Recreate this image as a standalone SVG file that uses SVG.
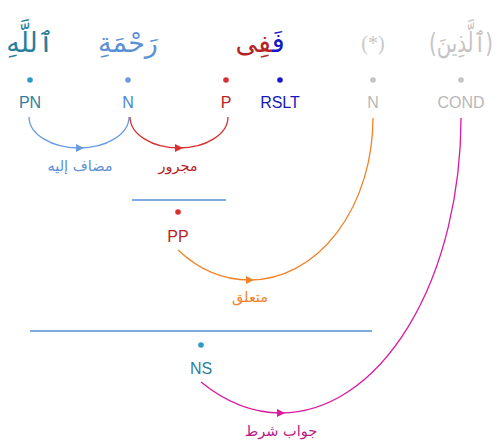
<svg xmlns="http://www.w3.org/2000/svg" width="502" height="442" viewBox="0 0 502 442">
<style>
.w{font-family:"DejaVu Sans",sans-serif;font-size:27px;text-anchor:middle}
.t{font-family:"Liberation Sans",Arial,sans-serif;font-size:16px;text-anchor:middle}
.a{font-family:"DejaVu Serif","DejaVu Sans",serif;font-size:14.5px;text-anchor:middle}
.c{fill:none;stroke-width:1.3}
.h{stroke:#5b8fd6;stroke-width:1.3}
</style>
<rect width="502" height="442" fill="#fff"/>
<g id="n-allah"><text class="w" x="30" y="52" fill="#2a7f9c">ٱللَّهِ</text><circle cx="30" cy="80" r="2.8" fill="#2f9bc8"/><text class="t" x="30" y="108" fill="#2e7f9e">PN</text></g>
<g id="n-rahmah"><text class="w" x="128" y="52" fill="#5b8fd6">رَحْمَةِ</text><circle cx="128" cy="80" r="2.8" fill="#6a9be0"/><text class="t" x="128" y="108" fill="#4a86d4">N</text></g>
<g id="n-fafi"><text class="w" x="260" y="52"><tspan fill="#1818c8">فَ</tspan><tspan fill="#b52424">فِى</tspan></text></g>
<g id="n-p"><circle cx="226" cy="80" r="2.8" fill="#d8302f"/><text class="t" x="226" y="108" fill="#b52424">P</text></g>
<g id="n-rslt"><circle cx="280" cy="80" r="2.8" fill="#1818d0"/><text class="t" x="280" y="108" fill="#1818b8">RSLT</text></g>
<g id="n-star"><text class="w" x="373" y="50" fill="#c8c8c8" style="font-family:'Liberation Serif',serif;font-size:20px">(*)</text><circle cx="373" cy="80" r="2.8" fill="#c4c4c4"/><text class="t" x="373" y="108" fill="#b8b8b8">N</text></g>
<g id="n-alladhina"><text class="w" x="461" y="52" fill="#c4c4c4" textLength="64" lengthAdjust="spacingAndGlyphs">(ٱلَّذِينَ)</text><circle cx="461" cy="80" r="2.8" fill="#c4c4c4"/><text class="t" x="461" y="108" fill="#b8b8b8">COND</text></g>
<g id="n-pp"><line class="h" x1="132" y1="200" x2="226" y2="200"/><circle cx="178" cy="212" r="2.8" fill="#d8302f"/><text class="t" x="178" y="242" fill="#b52424">PP</text></g>
<g id="n-ns"><line class="h" x1="30" y1="331" x2="372" y2="331"/><circle cx="201" cy="345" r="2.8" fill="#2f9bc8"/><text class="t" x="201" y="374" fill="#2e7f9e">NS</text></g>
<g id="connectors">
<path class="c" stroke="#6a9be0" d="M129,117 A50,31 0 0 1 79,148 A50,31 0 0 1 29,117"/>
<polygon fill="#6a9be0" points="84,148 76,144 76,152"/>
<text class="a" x="80" y="171" fill="#5b8fd6">مضاف إليه</text>
<path class="c" stroke="#d8302f" d="M228,117 A49,31 0 0 1 179,148 A49,31 0 0 1 130,117"/>
<polygon fill="#d8302f" points="183,148 175,144 175,152"/>
<text class="a" x="178" y="171" fill="#b52424">مجرور</text>
<path class="c" stroke="#f08228" d="M178,250 A123,162 0 0 0 250,280 A123,162 0 0 0 373,118"/>
<polygon fill="#f08228" points="254,280 246,276 246,284"/>
<text class="a" x="250" y="302" fill="#f08228">متعلق</text>
<path class="c" stroke="#d81ba0" d="M201,382 A180,295 0 0 0 281,413 A180,295 0 0 0 461,118"/>
<polygon fill="#d81ba0" points="285,413 277,409 277,417"/>
<text class="a" x="281" y="436" fill="#b81a88">جواب شرط</text>
</g>
</svg>
